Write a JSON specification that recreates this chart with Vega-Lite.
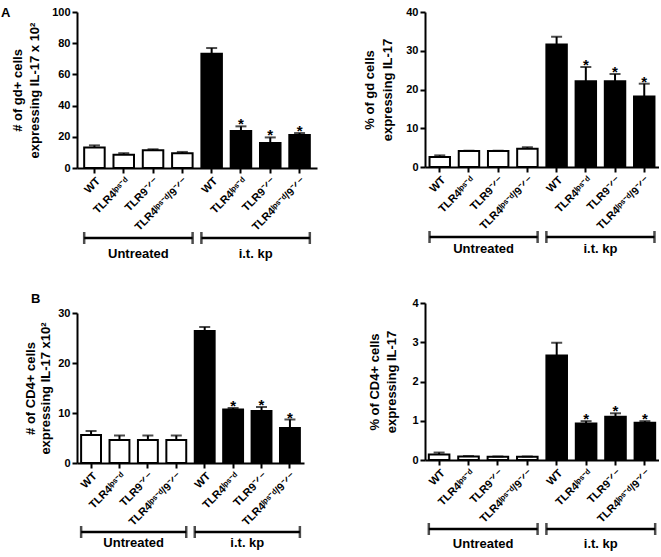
{
  "$schema": "https://vega.github.io/schema/vega-lite/v6.json",
  "padding": {"left": 1, "top": 6, "right": 0, "bottom": 0},
  "background": "white",
  "datasets": {
    "bars": [
      {"panel": "AL", "id": "WT|u", "group": "Untreated", "value": 13.2, "upper": 14.5, "sig": ""},
      {"panel": "AL", "id": "TLR4ˡᵖˢ⁻ᵈ|u", "group": "Untreated", "value": 8.5, "upper": 9.5, "sig": ""},
      {"panel": "AL", "id": "TLR9⁻ᐟ⁻|u", "group": "Untreated", "value": 11.3, "upper": 12.0, "sig": ""},
      {"panel": "AL", "id": "TLR4ˡᵖˢ⁻ᵈ/9⁻ᐟ⁻|u", "group": "Untreated", "value": 9.4, "upper": 10.3, "sig": ""},
      {"panel": "AL", "id": "WT|k", "group": "i.t. kp", "value": 73.3, "upper": 76.9, "sig": ""},
      {"panel": "AL", "id": "TLR4ˡᵖˢ⁻ᵈ|k", "group": "i.t. kp", "value": 23.7, "upper": 26.7, "sig": "*"},
      {"panel": "AL", "id": "TLR9⁻ᐟ⁻|k", "group": "i.t. kp", "value": 16.0, "upper": 19.6, "sig": "*"},
      {"panel": "AL", "id": "TLR4ˡᵖˢ⁻ᵈ/9⁻ᐟ⁻|k", "group": "i.t. kp", "value": 21.1, "upper": 22.4, "sig": "*"},
      {"panel": "AR", "id": "WT|u", "group": "Untreated", "value": 2.6, "upper": 3.0, "sig": ""},
      {"panel": "AR", "id": "TLR4ˡᵖˢ⁻ᵈ|u", "group": "Untreated", "value": 4.1, "upper": 4.2, "sig": ""},
      {"panel": "AR", "id": "TLR9⁻ᐟ⁻|u", "group": "Untreated", "value": 4.1, "upper": 4.2, "sig": ""},
      {"panel": "AR", "id": "TLR4ˡᵖˢ⁻ᵈ/9⁻ᐟ⁻|u", "group": "Untreated", "value": 4.7, "upper": 5.1, "sig": ""},
      {"panel": "AR", "id": "WT|k", "group": "i.t. kp", "value": 31.6, "upper": 33.6, "sig": ""},
      {"panel": "AR", "id": "TLR4ˡᵖˢ⁻ᵈ|k", "group": "i.t. kp", "value": 22.1, "upper": 25.8, "sig": "*"},
      {"panel": "AR", "id": "TLR9⁻ᐟ⁻|k", "group": "i.t. kp", "value": 22.1, "upper": 24.0, "sig": "*"},
      {"panel": "AR", "id": "TLR4ˡᵖˢ⁻ᵈ/9⁻ᐟ⁻|k", "group": "i.t. kp", "value": 18.2, "upper": 21.5, "sig": "*"},
      {"panel": "BL", "id": "WT|u", "group": "Untreated", "value": 5.6, "upper": 6.4, "sig": ""},
      {"panel": "BL", "id": "TLR4ˡᵖˢ⁻ᵈ|u", "group": "Untreated", "value": 4.6, "upper": 5.5, "sig": ""},
      {"panel": "BL", "id": "TLR9⁻ᐟ⁻|u", "group": "Untreated", "value": 4.6, "upper": 5.5, "sig": ""},
      {"panel": "BL", "id": "TLR4ˡᵖˢ⁻ᵈ/9⁻ᐟ⁻|u", "group": "Untreated", "value": 4.6, "upper": 5.5, "sig": ""},
      {"panel": "BL", "id": "WT|k", "group": "i.t. kp", "value": 26.4, "upper": 27.2, "sig": ""},
      {"panel": "BL", "id": "TLR4ˡᵖˢ⁻ᵈ|k", "group": "i.t. kp", "value": 10.7, "upper": 11.0, "sig": "*"},
      {"panel": "BL", "id": "TLR9⁻ᐟ⁻|k", "group": "i.t. kp", "value": 10.4, "upper": 11.2, "sig": "*"},
      {"panel": "BL", "id": "TLR4ˡᵖˢ⁻ᵈ/9⁻ᐟ⁻|k", "group": "i.t. kp", "value": 7.0, "upper": 8.7, "sig": "*"},
      {"panel": "BR", "id": "WT|u", "group": "Untreated", "value": 0.14, "upper": 0.19, "sig": ""},
      {"panel": "BR", "id": "TLR4ˡᵖˢ⁻ᵈ|u", "group": "Untreated", "value": 0.09, "upper": 0.1, "sig": ""},
      {"panel": "BR", "id": "TLR9⁻ᐟ⁻|u", "group": "Untreated", "value": 0.08, "upper": 0.09, "sig": ""},
      {"panel": "BR", "id": "TLR4ˡᵖˢ⁻ᵈ/9⁻ᐟ⁻|u", "group": "Untreated", "value": 0.08, "upper": 0.09, "sig": ""},
      {"panel": "BR", "id": "WT|k", "group": "i.t. kp", "value": 2.66, "upper": 2.99, "sig": ""},
      {"panel": "BR", "id": "TLR4ˡᵖˢ⁻ᵈ|k", "group": "i.t. kp", "value": 0.93, "upper": 0.99, "sig": "*"},
      {"panel": "BR", "id": "TLR9⁻ᐟ⁻|k", "group": "i.t. kp", "value": 1.10, "upper": 1.19, "sig": "*"},
      {"panel": "BR", "id": "TLR4ˡᵖˢ⁻ᵈ/9⁻ᐟ⁻|k", "group": "i.t. kp", "value": 0.95, "upper": 0.99, "sig": "*"}
    ],
    "brackets": [
      {"group": "Untreated", "from": "WT|u", "to": "TLR4ˡᵖˢ⁻ᵈ/9⁻ᐟ⁻|u", "mid": "TLR4ˡᵖˢ⁻ᵈ|u"},
      {"group": "i.t. kp", "from": "WT|k", "to": "TLR4ˡᵖˢ⁻ᵈ/9⁻ᐟ⁻|k", "mid": "TLR4ˡᵖˢ⁻ᵈ|k"}
    ]
  },
  "config": {
    "font": "Liberation Sans",
    "view": {"stroke": null},
    "axis": {
      "domainColor": "black", "domainWidth": 2, "tickColor": "black", "tickWidth": 2, "tickSize": 5,
      "labelFont": "Liberation Sans", "labelFontWeight": "bold", "labelFontSize": 11, "labelColor": "black", "labelPadding": 2, "labelOverlap": false,
      "titleFont": "Liberation Sans", "titleFontWeight": "bold", "titleFontSize": 13, "titleColor": "black", "titleLineHeight": 16,
      "grid": false
    },
    "axisX": {"labelAngle": -45, "labelPadding": 2},
    "title": {"font": "Liberation Sans", "fontWeight": "bold", "fontSize": 13, "color": "black", "anchor": "start", "frame": "group"}
  },
  "hconcat": [
    {
      "spacing": 32,
      "vconcat": [
        {
          "spacing": -1,
          "vconcat": [
            {
              "title": {"text": "A", "dx": -76, "offset": -14},
              "width": 240, "height": 156,
              "data": {"name": "bars"},
              "transform": [{"filter": "datum.panel === 'AL'"}],
              "encoding": {
                "x": {"field": "id", "type": "nominal", "sort": null,
                  "scale": {"domain": ["WT|u", "TLR4ˡᵖˢ⁻ᵈ|u", "TLR9⁻ᐟ⁻|u", "TLR4ˡᵖˢ⁻ᵈ/9⁻ᐟ⁻|u", "WT|k", "TLR4ˡᵖˢ⁻ᵈ|k", "TLR9⁻ᐟ⁻|k", "TLR4ˡᵖˢ⁻ᵈ/9⁻ᐟ⁻|k"], "paddingInner": 0.3, "paddingOuter": 0.245},
                  "axis": {"title": null, "labelOverlap": false, "labelExpr": "split(datum.value, '|')[0]"}}
              },
              "layer": [
                {"mark": {"type": "bar", "stroke": "black", "strokeWidth": 2},
                 "encoding": {
                   "y": {"field": "value", "type": "quantitative", "scale": {"domain": [0, 100], "nice": false},
                     "axis": {"values": [0, 20, 40, 60, 80, 100], "tickCount": 20, "format": "d", "labelOverlap": false, "title": ["# of gd+ cells", "expressing IL-17 x 10²"], "titlePadding": 10, "titleLineHeight": 17}},
                   "fill": {"field": "group", "type": "nominal", "scale": {"domain": ["Untreated", "i.t. kp"], "range": ["white", "black"]}, "legend": null}}},
                {"mark": {"type": "rule", "strokeWidth": 2, "color": "black"},
                 "encoding": {"y": {"field": "value", "type": "quantitative"}, "y2": {"field": "upper"}}},
                {"mark": {"type": "tick", "orient": "horizontal", "thickness": 2, "size": 11, "color": "black"},
                 "encoding": {"y": {"field": "upper", "type": "quantitative"}}},
                {"transform": [{"filter": "datum.sig !== ''"}],
                 "mark": {"type": "text", "fontSize": 15, "fontWeight": "bold", "baseline": "alphabetic", "dy": 3, "color": "black"},
                 "encoding": {"y": {"field": "upper", "type": "quantitative"}, "text": {"field": "sig"}}}
              ]
            },
            {
              "width": 240, "height": 8,
              "data": {"name": "brackets"},
              "encoding": {
                "x": {"field": "from", "type": "nominal", "bandPosition": 0,
                  "scale": {"domain": ["WT|u", "TLR4ˡᵖˢ⁻ᵈ|u", "TLR9⁻ᐟ⁻|u", "TLR4ˡᵖˢ⁻ᵈ/9⁻ᐟ⁻|u", "WT|k", "TLR4ˡᵖˢ⁻ᵈ|k", "TLR9⁻ᐟ⁻|k", "TLR4ˡᵖˢ⁻ᵈ/9⁻ᐟ⁻|k"], "paddingInner": 0.3, "paddingOuter": 0.245},
                  "axis": null}
              },
              "layer": [
                {"mark": {"type": "rule", "strokeWidth": 2.5, "color": "black"}, "encoding": {"x2": {"field": "to", "bandPosition": 1}}},
                {"mark": {"type": "tick", "orient": "vertical", "size": 12, "thickness": 2.5, "color": "black"}},
                {"mark": {"type": "tick", "orient": "vertical", "size": 12, "thickness": 2.5, "color": "black"},
                 "encoding": {"x": {"field": "to", "type": "nominal", "bandPosition": 1}}},
                {"mark": {"type": "text", "fontSize": 13, "fontWeight": "bold", "baseline": "middle", "dy": 15.5, "color": "black"},
                 "encoding": {"x": {"field": "mid", "type": "nominal", "bandPosition": 1.214}, "text": {"field": "group"}}}
              ]
            }
          ]
        },
        {
          "spacing": -3,
          "vconcat": [
            {
              "title": {"text": "B", "dx": -46, "offset": 1},
              "width": 227, "height": 150,
              "data": {"name": "bars"},
              "transform": [{"filter": "datum.panel === 'BL'"}],
              "encoding": {
                "x": {"field": "id", "type": "nominal", "sort": null,
                  "scale": {"domain": ["WT|u", "TLR4ˡᵖˢ⁻ᵈ|u", "TLR9⁻ᐟ⁻|u", "TLR4ˡᵖˢ⁻ᵈ/9⁻ᐟ⁻|u", "WT|k", "TLR4ˡᵖˢ⁻ᵈ|k", "TLR9⁻ᐟ⁻|k", "TLR4ˡᵖˢ⁻ᵈ/9⁻ᐟ⁻|k"], "paddingInner": 0.3, "paddingOuter": 0.145},
                  "axis": {"title": null, "labelOverlap": false, "labelExpr": "split(datum.value, '|')[0]"}}
              },
              "layer": [
                {"mark": {"type": "bar", "stroke": "black", "strokeWidth": 2},
                 "encoding": {
                   "y": {"field": "value", "type": "quantitative", "scale": {"domain": [0, 30], "nice": false},
                     "axis": {"values": [0, 10, 20, 30], "tickCount": 20, "format": "d", "labelOverlap": false, "title": ["# of CD4+ cells", "expressing IL-17 x10²"], "titlePadding": 5, "titleLineHeight": 15}},
                   "fill": {"field": "group", "type": "nominal", "scale": {"domain": ["Untreated", "i.t. kp"], "range": ["white", "black"]}, "legend": null}}},
                {"mark": {"type": "rule", "strokeWidth": 2, "color": "black"},
                 "encoding": {"y": {"field": "value", "type": "quantitative"}, "y2": {"field": "upper"}}},
                {"mark": {"type": "tick", "orient": "horizontal", "thickness": 2, "size": 11, "color": "black"},
                 "encoding": {"y": {"field": "upper", "type": "quantitative"}}},
                {"transform": [{"filter": "datum.sig !== ''"}],
                 "mark": {"type": "text", "fontSize": 15, "fontWeight": "bold", "baseline": "alphabetic", "dy": 3, "color": "black"},
                 "encoding": {"y": {"field": "upper", "type": "quantitative"}, "text": {"field": "sig"}}}
              ]
            },
            {
              "width": 227, "height": 8,
              "data": {"name": "brackets"},
              "encoding": {
                "x": {"field": "from", "type": "nominal", "bandPosition": 0,
                  "scale": {"domain": ["WT|u", "TLR4ˡᵖˢ⁻ᵈ|u", "TLR9⁻ᐟ⁻|u", "TLR4ˡᵖˢ⁻ᵈ/9⁻ᐟ⁻|u", "WT|k", "TLR4ˡᵖˢ⁻ᵈ|k", "TLR9⁻ᐟ⁻|k", "TLR4ˡᵖˢ⁻ᵈ/9⁻ᐟ⁻|k"], "paddingInner": 0.3, "paddingOuter": 0.145},
                  "axis": null}
              },
              "layer": [
                {"mark": {"type": "rule", "strokeWidth": 2.5, "color": "black"}, "encoding": {"x2": {"field": "to", "bandPosition": 1}}},
                {"mark": {"type": "tick", "orient": "vertical", "size": 12, "thickness": 2.5, "color": "black"}},
                {"mark": {"type": "tick", "orient": "vertical", "size": 12, "thickness": 2.5, "color": "black"},
                 "encoding": {"x": {"field": "to", "type": "nominal", "bandPosition": 1}}},
                {"mark": {"type": "text", "fontSize": 13, "fontWeight": "bold", "baseline": "middle", "dy": 11, "color": "black"},
                 "encoding": {"x": {"field": "mid", "type": "nominal", "bandPosition": 1.214}, "text": {"field": "group"}}}
              ]
            }
          ]
        }
      ]
    },
    {
      "columns": 1,
      "align": "none",
      "spacing": 41,
      "concat": [
        {
          "spacing": -1,
          "vconcat": [
            {
              "width": 234, "height": 155,
              "data": {"name": "bars"},
              "transform": [{"filter": "datum.panel === 'AR'"}],
              "encoding": {
                "x": {"field": "id", "type": "nominal", "sort": null,
                  "scale": {"domain": ["WT|u", "TLR4ˡᵖˢ⁻ᵈ|u", "TLR9⁻ᐟ⁻|u", "TLR4ˡᵖˢ⁻ᵈ/9⁻ᐟ⁻|u", "WT|k", "TLR4ˡᵖˢ⁻ᵈ|k", "TLR9⁻ᐟ⁻|k", "TLR4ˡᵖˢ⁻ᵈ/9⁻ᐟ⁻|k"], "paddingInner": 0.3, "paddingOuter": 0.155},
                  "axis": {"title": null, "labelOverlap": false, "labelExpr": "split(datum.value, '|')[0]"}}
              },
              "layer": [
                {"mark": {"type": "bar", "stroke": "black", "strokeWidth": 2},
                 "encoding": {
                   "y": {"field": "value", "type": "quantitative", "scale": {"domain": [0, 40], "nice": false},
                     "axis": {"values": [0, 10, 20, 30, 40], "tickCount": 20, "format": "d", "labelOverlap": false, "title": ["% of gd cells", "expressing IL-17"], "titlePadding": 11, "titleLineHeight": 18}},
                   "fill": {"field": "group", "type": "nominal", "scale": {"domain": ["Untreated", "i.t. kp"], "range": ["white", "black"]}, "legend": null}}},
                {"mark": {"type": "rule", "strokeWidth": 2, "color": "black"},
                 "encoding": {"y": {"field": "value", "type": "quantitative"}, "y2": {"field": "upper"}}},
                {"mark": {"type": "tick", "orient": "horizontal", "thickness": 2, "size": 11, "color": "black"},
                 "encoding": {"y": {"field": "upper", "type": "quantitative"}}},
                {"transform": [{"filter": "datum.sig !== ''"}],
                 "mark": {"type": "text", "fontSize": 15, "fontWeight": "bold", "baseline": "alphabetic", "dy": 3, "color": "black"},
                 "encoding": {"y": {"field": "upper", "type": "quantitative"}, "text": {"field": "sig"}}}
              ]
            },
            {
              "width": 234, "height": 8,
              "data": {"name": "brackets"},
              "encoding": {
                "x": {"field": "from", "type": "nominal", "bandPosition": 0,
                  "scale": {"domain": ["WT|u", "TLR4ˡᵖˢ⁻ᵈ|u", "TLR9⁻ᐟ⁻|u", "TLR4ˡᵖˢ⁻ᵈ/9⁻ᐟ⁻|u", "WT|k", "TLR4ˡᵖˢ⁻ᵈ|k", "TLR9⁻ᐟ⁻|k", "TLR4ˡᵖˢ⁻ᵈ/9⁻ᐟ⁻|k"], "paddingInner": 0.3, "paddingOuter": 0.155},
                  "axis": null}
              },
              "layer": [
                {"mark": {"type": "rule", "strokeWidth": 2.5, "color": "black"}, "encoding": {"x2": {"field": "to", "bandPosition": 1}}},
                {"mark": {"type": "tick", "orient": "vertical", "size": 12, "thickness": 2.5, "color": "black"}},
                {"mark": {"type": "tick", "orient": "vertical", "size": 12, "thickness": 2.5, "color": "black"},
                 "encoding": {"x": {"field": "to", "type": "nominal", "bandPosition": 1}}},
                {"mark": {"type": "text", "fontSize": 13, "fontWeight": "bold", "baseline": "middle", "dy": 12, "color": "black"},
                 "encoding": {"x": {"field": "mid", "type": "nominal", "bandPosition": 1.214}, "text": {"field": "group"}}}
              ]
            }
          ]
        },
        {
          "spacing": -20,
          "vconcat": [
            {
              "width": 234, "height": 157,
              "data": {"name": "bars"},
              "transform": [{"filter": "datum.panel === 'BR'"}],
              "encoding": {
                "x": {"field": "id", "type": "nominal", "sort": null,
                  "scale": {"domain": ["WT|u", "TLR4ˡᵖˢ⁻ᵈ|u", "TLR9⁻ᐟ⁻|u", "TLR4ˡᵖˢ⁻ᵈ/9⁻ᐟ⁻|u", "WT|k", "TLR4ˡᵖˢ⁻ᵈ|k", "TLR9⁻ᐟ⁻|k", "TLR4ˡᵖˢ⁻ᵈ/9⁻ᐟ⁻|k"], "paddingInner": 0.3, "paddingOuter": 0.13},
                  "axis": {"title": null, "labelOverlap": false, "labelExpr": "split(datum.value, '|')[0]"}}
              },
              "layer": [
                {"mark": {"type": "bar", "stroke": "black", "strokeWidth": 2},
                 "encoding": {
                   "y": {"field": "value", "type": "quantitative", "scale": {"domain": [0, 4], "nice": false},
                     "axis": {"values": [0, 1, 2, 3, 4], "tickCount": 20, "format": "d", "labelOverlap": false, "title": ["% of CD4+ cells", "expressing IL-17"], "titlePadding": 13, "titleLineHeight": 17}},
                   "fill": {"field": "group", "type": "nominal", "scale": {"domain": ["Untreated", "i.t. kp"], "range": ["white", "black"]}, "legend": null}}},
                {"mark": {"type": "rule", "strokeWidth": 2, "color": "black"},
                 "encoding": {"y": {"field": "value", "type": "quantitative"}, "y2": {"field": "upper"}}},
                {"mark": {"type": "tick", "orient": "horizontal", "thickness": 2, "size": 11, "color": "black"},
                 "encoding": {"y": {"field": "upper", "type": "quantitative"}}},
                {"transform": [{"filter": "datum.sig !== ''"}],
                 "mark": {"type": "text", "fontSize": 15, "fontWeight": "bold", "baseline": "alphabetic", "dy": 3, "color": "black"},
                 "encoding": {"y": {"field": "upper", "type": "quantitative"}, "text": {"field": "sig"}}}
              ]
            },
            {
              "width": 234, "height": 8,
              "data": {"name": "brackets"},
              "encoding": {
                "x": {"field": "from", "type": "nominal", "bandPosition": 0,
                  "scale": {"domain": ["WT|u", "TLR4ˡᵖˢ⁻ᵈ|u", "TLR9⁻ᐟ⁻|u", "TLR4ˡᵖˢ⁻ᵈ/9⁻ᐟ⁻|u", "WT|k", "TLR4ˡᵖˢ⁻ᵈ|k", "TLR9⁻ᐟ⁻|k", "TLR4ˡᵖˢ⁻ᵈ/9⁻ᐟ⁻|k"], "paddingInner": 0.3, "paddingOuter": 0.13},
                  "axis": null}
              },
              "layer": [
                {"mark": {"type": "rule", "strokeWidth": 2.5, "color": "black"}, "encoding": {"x2": {"field": "to", "bandPosition": 1}}},
                {"mark": {"type": "tick", "orient": "vertical", "size": 12, "thickness": 2.5, "color": "black"}},
                {"mark": {"type": "tick", "orient": "vertical", "size": 12, "thickness": 2.5, "color": "black"},
                 "encoding": {"x": {"field": "to", "type": "nominal", "bandPosition": 1}}},
                {"mark": {"type": "text", "fontSize": 13, "fontWeight": "bold", "baseline": "middle", "dy": 15, "color": "black"},
                 "encoding": {"x": {"field": "mid", "type": "nominal", "bandPosition": 1.214}, "text": {"field": "group"}}}
              ]
            }
          ]
        }
      ]
    }
  ],
  "spacing": 46
}
